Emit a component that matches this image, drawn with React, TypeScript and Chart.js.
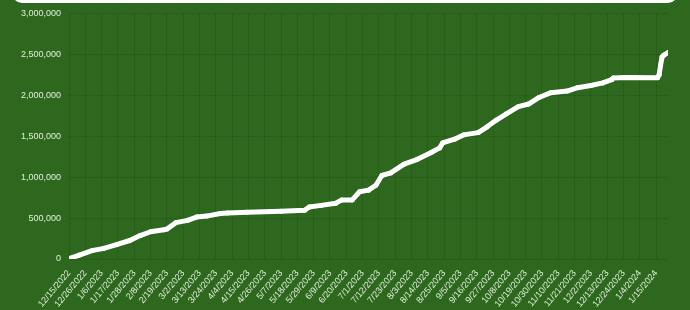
import React, { useEffect, useRef } from "react";
import { Chart, registerables } from "chart.js";

Chart.register(...registerables);

const startDate = "12/15/2022";

const pointDates = [
  "12/15/2022", "12/22/2022", "12/31/2022", "1/7/2023", "1/16/2023", "1/25/2023",
  "2/1/2023", "2/8/2023", "2/17/2023", "2/19/2023", "2/25/2023", "3/5/2023",
  "3/11/2023", "3/18/2023", "3/27/2023", "4/1/2023", "4/14/2023", "5/7/2023",
  "5/23/2023", "5/26/2023", "6/3/2023", "6/13/2023", "6/17/2023", "6/24/2023",
  "6/29/2023", "7/5/2023", "7/10/2023", "7/14/2023", "7/20/2023", "7/29/2023",
  "8/7/2023", "8/16/2023", "8/22/2023", "8/24/2023", "9/1/2023", "9/7/2023",
  "9/17/2023", "9/23/2023", "9/29/2023", "10/6/2023", "10/14/2023", "10/21/2023",
  "10/28/2023", "11/5/2023", "11/16/2023", "11/23/2023", "12/2/2023", "12/10/2023",
  "12/16/2023", "12/17/2023", "12/25/2023", "1/16/2024", "1/17/2024", "1/18/2024",
  "1/19/2024", "1/20/2024", "1/23/2024",
];

const totals = [
  5000, 48000, 105000, 127000, 175000, 226000,
  286000, 333000, 357000, 365000, 444000, 472000,
  512000, 524000, 556000, 563000, 571000, 583000,
  595000, 635000, 655000, 682000, 722000, 722000,
  821000, 841000, 901000, 1020000, 1051000, 1158000,
  1218000, 1298000, 1357000, 1417000, 1464000, 1516000,
  1544000, 1615000, 1694000, 1774000, 1861000, 1893000,
  1973000, 2032000, 2051000, 2092000, 2119000, 2151000,
  2190000, 2210000, 2218000, 2215000, 2250000, 2369000,
  2468000, 2488000, 2520000,
];

const xTickLabels = [
  "12/15/2022", "12/26/2022", "1/6/2023", "1/17/2023", "1/28/2023", "2/8/2023",
  "2/19/2023", "3/2/2023", "3/13/2023", "3/24/2023", "4/4/2023", "4/15/2023",
  "4/26/2023", "5/7/2023", "5/18/2023", "5/29/2023", "6/9/2023", "6/20/2023",
  "7/1/2023", "7/12/2023", "7/23/2023", "8/3/2023", "8/14/2023", "8/25/2023",
  "9/5/2023", "9/16/2023", "9/27/2023", "10/8/2023", "10/19/2023", "10/30/2023",
  "11/10/2023", "11/21/2023", "12/2/2023", "12/13/2023", "12/24/2023", "1/4/2024",
  "1/15/2024",
];

const yMax = 3000000;
const yStep = 500000;

function dayOffset(s: string): number {
  const [m, d, y] = s.split("/").map(Number);
  const [m0, d0, y0] = startDate.split("/").map(Number);
  return Math.round((Date.UTC(y, m - 1, d) - Date.UTC(y0, m0 - 1, d0)) / 86400000);
}

const BG = "#2d681e";
const TEXT = "#e2f0da";
const GRID = "rgba(0,0,0,0.1)";
const FONT = { family: "'Liberation Sans', Arial, Helvetica, sans-serif", size: 9 };

export default function App() {
  const ref = useRef<HTMLCanvasElement | null>(null);

  useEffect(() => {
    if (!ref.current) return;
    const points = pointDates.map((d, i) => ({ x: dayOffset(d), y: totals[i] }));
    const tickDays = xTickLabels.map((l) => dayOffset(l));
    const lastDay = dayOffset(pointDates[pointDates.length - 1]);

    const chart = new Chart(ref.current, {
      type: "line",
      data: {
        datasets: [
          {
            data: points,
            borderColor: "#ffffff",
            backgroundColor: "#ffffff",
            borderWidth: 5,
            pointRadius: 2.5,
            pointBorderWidth: 0,
            pointBackgroundColor: "#ffffff",
            borderJoinStyle: "round",
            borderCapStyle: "round",
            tension: 0,
            fill: false,
          },
        ],
      },
      options: {
        animation: false,
        responsive: false,
        devicePixelRatio: 1,
        layout: { padding: { top: 7, right: 22, bottom: 0, left: 0 } },
        plugins: { legend: { display: false }, tooltip: { enabled: false }, title: { display: false } },
        scales: {
          x: {
            type: "linear",
            min: 0,
            max: lastDay,
            afterBuildTicks: (scale: any) => {
              scale.ticks = tickDays.map((v) => ({ value: v }));
            },
            afterFit: (scale: any) => {
              scale.height = 51;
            },
            grid: { color: GRID, drawTicks: false, lineWidth: 1 },
            border: { display: false },
            ticks: {
              autoSkip: false,
              minRotation: 50,
              maxRotation: 50,
              padding: 9,
              color: TEXT,
              font: FONT,
              callback: (v: any) => {
                const i = tickDays.indexOf(Number(v));
                return i >= 0 ? xTickLabels[i] : null;
              },
            },
          },
          y: {
            min: 0,
            max: yMax,
            afterFit: (scale: any) => {
              scale.width = 69;
            },
            grid: { color: GRID, drawTicks: false, lineWidth: 1 },
            border: { display: false },
            ticks: {
              stepSize: yStep,
              padding: 8,
              color: TEXT,
              font: FONT,
              callback: (v: any) => Number(v).toLocaleString("en-US"),
            },
          },
        },
      },
    });
    return () => chart.destroy();
  }, []);

  return (
    <div
      style={{
        position: "fixed",
        left: 0,
        top: 0,
        width: 690,
        height: 310,
        background: BG,
        overflow: "hidden",
      }}
    >
      <div
        style={{
          position: "absolute",
          left: 12,
          top: -20,
          width: 666,
          height: 23,
          background: "#ffffff",
          borderRadius: 10,
        }}
      />
      <canvas ref={ref} width={690} height={310} style={{ display: "block", width: 690, height: 310 }} />
    </div>
  );
}
